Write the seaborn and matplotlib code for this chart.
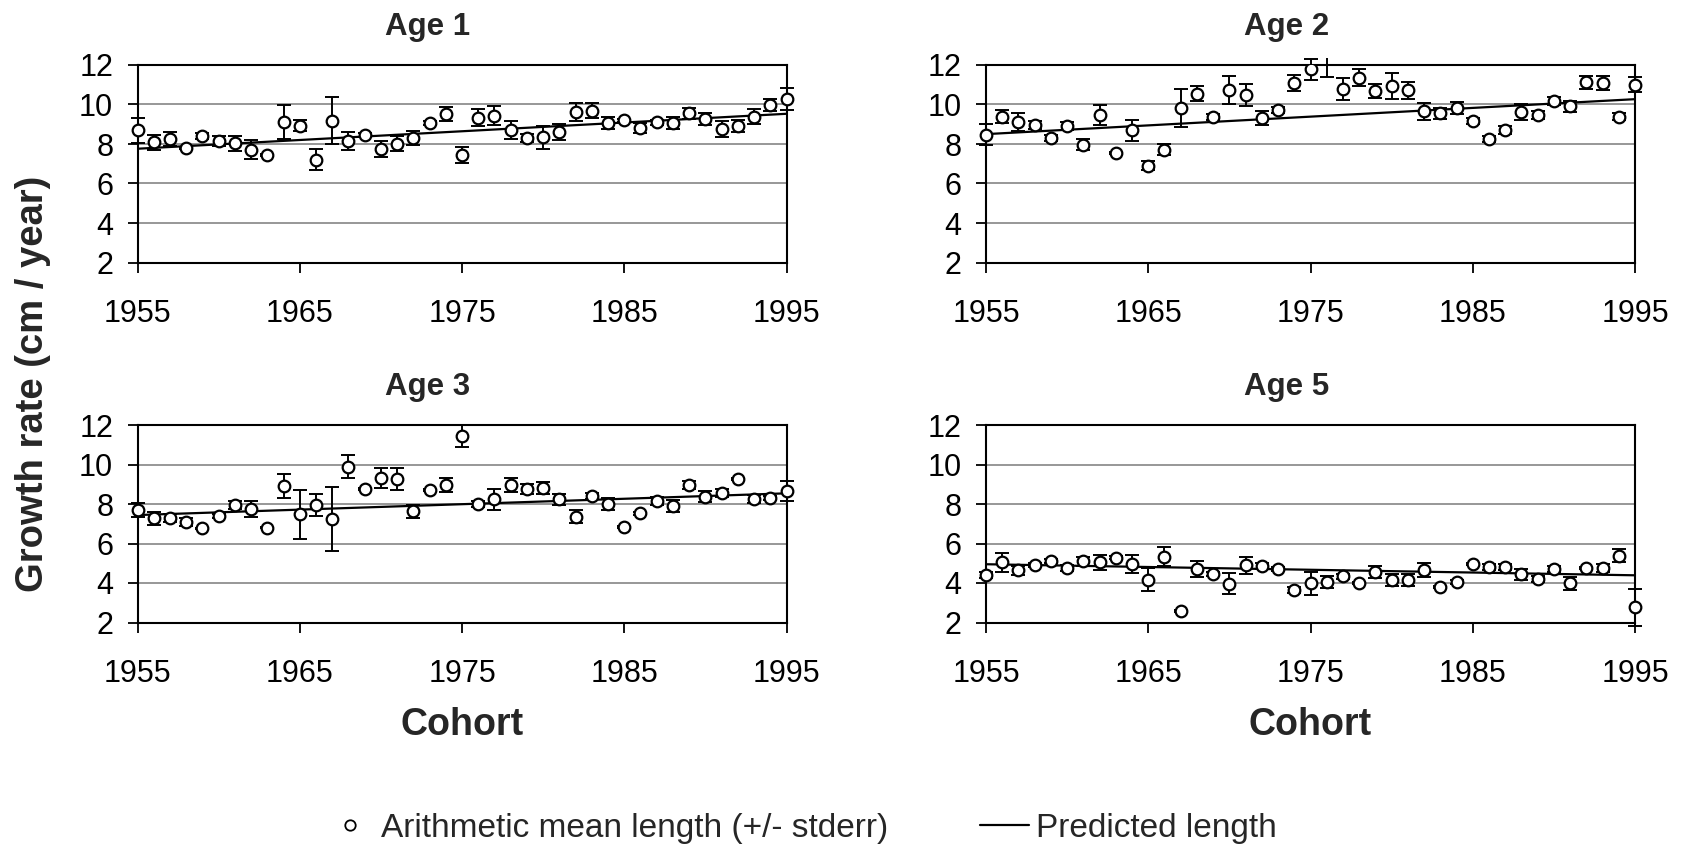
import numpy as np
import pandas as pd
import matplotlib
matplotlib.use("Agg")
import matplotlib.pyplot as plt
from matplotlib.lines import Line2D
from matplotlib.transforms import Bbox, TransformedBbox
import seaborn as sns

# ---------------- data ----------------
years = list(range(1955, 1996))

age1_mean = [8.69, 8.08, 8.25, 7.80, 8.39, 8.13, 8.05, 7.71, 7.46, 9.11,
             8.92, 7.21, 9.18, 8.17, 8.45, 7.75, 8.02, 8.29, 9.06, 9.50,
             7.45, 9.33, 9.43, 8.69, 8.30, 8.34, 8.59, 9.60, 9.68, 9.06,
             9.19, 8.81, 9.09, 9.06, 9.56, 9.28, 8.76, 8.89, 9.39, 9.98, 10.27]
age1_err = [0.62, 0.40, 0.36, 0.05, 0.15, 0.25, 0.38, 0.48, 0.05, 0.86,
            0.28, 0.52, 1.19, 0.46, 0.10, 0.39, 0.37, 0.36, 0.10, 0.35,
            0.40, 0.42, 0.48, 0.46, 0.20, 0.57, 0.40, 0.46, 0.38, 0.30,
            0.10, 0.25, 0.15, 0.30, 0.28, 0.30, 0.40, 0.30, 0.37, 0.30, 0.55]

age2_mean = [8.47, 9.39, 9.11, 8.94, 8.29, 8.92, 7.97, 9.48, 7.55, 8.69,
             6.91, 7.71, 9.82, 10.54, 9.39, 10.74, 10.49, 9.31, 9.70, 11.08,
             11.78, 12.40, 10.79, 11.36, 10.69, 10.94, 10.71, 9.65, 9.56, 9.82,
             9.18, 8.25, 8.72, 9.61, 9.46, 10.18, 9.90, 11.13, 11.08, 9.39, 10.99]
age2_err = [0.53, 0.35, 0.44, 0.20, 0.15, 0.20, 0.28, 0.50, 0.05, 0.52,
            0.25, 0.28, 0.96, 0.38, 0.15, 0.69, 0.55, 0.36, 0.15, 0.42,
            0.52, 1.00, 0.57, 0.44, 0.35, 0.65, 0.42, 0.42, 0.28, 0.32,
            0.15, 0.15, 0.20, 0.42, 0.20, 0.20, 0.30, 0.33, 0.35, 0.20, 0.38]

age3_mean = [7.69, 7.27, 7.30, 7.10, 6.76, 7.39, 7.95, 7.74, 6.81, 8.91,
             7.47, 7.95, 7.22, 9.89, 8.76, 9.33, 9.26, 7.64, 8.71, 8.96,
             11.46, 8.00, 8.25, 8.96, 8.74, 8.79, 8.23, 7.35, 8.40, 8.00,
             6.85, 7.52, 8.17, 7.92, 8.96, 8.37, 8.57, 9.25, 8.25, 8.32, 8.67]
age3_err = [0.37, 0.34, 0.20, 0.20, 0.05, 0.10, 0.22, 0.40, 0.05, 0.59,
            1.25, 0.57, 1.62, 0.57, 0.05, 0.50, 0.57, 0.33, 0.05, 0.34,
            0.55, 0.15, 0.53, 0.34, 0.25, 0.30, 0.30, 0.33, 0.15, 0.30,
            0.05, 0.10, 0.20, 0.30, 0.22, 0.28, 0.20, 0.05, 0.20, 0.10, 0.50]

age5_mean = [4.41, 5.04, 4.65, 4.92, 5.12, 4.78, 5.09, 5.04, 5.29, 4.98,
             4.16, 5.34, 2.59, 4.70, 4.45, 3.97, 4.90, 4.87, 4.73, 3.64,
             3.99, 4.06, 4.33, 3.99, 4.56, 4.16, 4.16, 4.66, 3.82, 4.07,
             4.98, 4.82, 4.82, 4.45, 4.19, 4.73, 3.99, 4.75, 4.78, 5.37, 2.76]
age5_err = [0.15, 0.49, 0.22, 0.10, 0.10, 0.15, 0.22, 0.37, 0.10, 0.45,
            0.59, 0.48, 0.05, 0.40, 0.10, 0.55, 0.44, 0.15, 0.10, 0.15,
            0.58, 0.30, 0.15, 0.05, 0.30, 0.32, 0.30, 0.34, 0.05, 0.10,
            0.05, 0.15, 0.15, 0.28, 0.15, 0.15, 0.33, 0.05, 0.20, 0.33, 0.93]

pred_years = [1955, 1995]
age1_pred = [7.76, 9.53]
age2_pred = [8.50, 10.27]
age3_pred = [7.44, 8.54]
age5_pred = [4.95, 4.39]

panel_titles = ["Age 1", "Age 2", "Age 3", "Age 5"]
x_ticks = [1955, 1965, 1975, 1985, 1995]
y_ticks = [2, 4, 6, 8, 10, 12]
y_label = "Growth rate (cm / year)"
x_label = "Cohort"
legend_labels = ["Arithmetic mean length (+/- stderr)", "Predicted length"]

# ---------------- style ----------------
sns.set_theme(style="white")
plt.rcParams["font.family"] = ["Liberation Sans", "DejaVu Sans"]

W, H = 1684, 846
fig = plt.figure(figsize=(W / 100, H / 100), dpi=100)


def fx(px):
    return px / W


def fy(py):
    return 1 - py / H


col_left = [137.5, 986.0]
col_w = 649.0
row_top = [65.0, 425.0]
row_h = 197.5

panels = [
    (age1_mean, age1_err, age1_pred),
    (age2_mean, age2_err, age2_pred),
    (age3_mean, age3_err, age3_pred),
    (age5_mean, age5_err, age5_pred),
]

title_x = [428, 1287]
title_base = [35, 395]

for i, (mean, err, pred) in enumerate(panels):
    r, c = divmod(i, 2)
    ax = fig.add_axes([fx(col_left[c]), fy(row_top[r] + row_h),
                       col_w / W, row_h / H])
    df = pd.DataFrame({"Cohort": years, "mean": mean, "err": err})
    pdf = pd.DataFrame({"Cohort": pred_years, "pred": pred})

    ebs = ax.errorbar(df["Cohort"], df["mean"], yerr=df["err"], fmt="none",
                      ecolor="black", elinewidth=1.4, capsize=5.3,
                      capthick=1.4, zorder=2)
    sns.lineplot(data=pdf, x="Cohort", y="pred", ax=ax, color="black",
                 lw=1.6, zorder=2.5)
    sns.scatterplot(data=df, x="Cohort", y="mean", ax=ax, marker="o",
                    s=70, facecolor="white", edgecolor="black",
                    linewidth=1.6, zorder=3)

    ax.set_xlim(1955, 1995)
    ax.set_ylim(2, 12)
    ax.set_xticks(x_ticks)
    ax.set_yticks(y_ticks)
    ax.set_xlabel("")
    ax.set_ylabel("")

    # clipping like the spreadsheet: allow overflow left/right
    ebox = TransformedBbox(Bbox.from_extents(-0.04, -0.03, 1.04, 1.035),
                           ax.transAxes)
    mbox = TransformedBbox(Bbox.from_extents(-0.04, -0.05, 1.04, 1.0),
                           ax.transAxes)
    for art in list(ebs.lines[1]) + list(ebs.lines[2]):
        art.set_clip_path(None)
        art.set_clip_box(ebox)
    sc = ax.collections[-1]
    sc.set_clip_path(None)
    sc.set_clip_box(mbox)

    ax.yaxis.grid(True, color="#7a7a7a", lw=1.1)
    ax.xaxis.grid(False)
    ax.set_axisbelow(True)
    for sp in ax.spines.values():
        sp.set_color("black")
        sp.set_linewidth(1.5)
        sp.set_visible(True)
    ax.tick_params(axis="both", direction="out", length=7.5, width=1.3,
                   color="black", labelsize=22, labelcolor="black")
    ax.tick_params(axis="x", pad=18.5, bottom=True)
    ax.tick_params(axis="y", pad=10, left=True)

    fig.text(fx(title_x[c]), fy(title_base[r]), panel_titles[i],
             ha="center", va="baseline", fontsize=22.5, fontweight="bold")

# axis labels
fig.text(fx(33), fy(384), y_label, rotation=90, ha="center", va="center",
         fontsize=27.5, fontweight="bold")
for c in range(2):
    fig.text(fx(col_left[c] + col_w / 2), fy(735), x_label, ha="center",
             va="baseline", fontsize=27, fontweight="bold")

# legend
h1 = Line2D([], [], ls="none", marker="o", ms=7.5, mfc="white",
            mec="black", mew=1.3)
h2 = Line2D([], [], color="black", lw=1.6)
fig.legend([h1, h2], legend_labels, loc="center",
           bbox_to_anchor=(fx(801), fy(828)), ncol=2, frameon=False,
           fontsize=24, handlelength=1.47, handletextpad=0.2,
           columnspacing=2.75, borderpad=0, borderaxespad=0)

fig.savefig("out.png", dpi=100)
